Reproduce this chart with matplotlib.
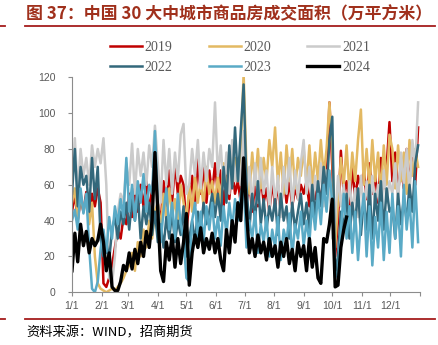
import matplotlib
matplotlib.use('Agg')
import matplotlib.pyplot as plt
from matplotlib.lines import Line2D
import numpy as np

# daily volume, sampled every 3 days from 1/1 (month by month)
y2019 = ([45, 55, 40, 52, 45, 56, 42, 55, 48, 58, 50] + [5, 3, 8, 15, 25, 35, 30, 42, 38]
         + [55, 42, 58, 45, 60, 48, 62, 45, 58, 70] + [50, 38, 62, 48, 68, 50, 72, 55, 65, 60]
         + [35, 50, 65, 48, 75, 55, 70, 50, 68, 55, 72] + [55, 68, 48, 65, 52, 70, 55, 62, 50, 78]
         + [50, 62, 45, 60, 48, 65, 50, 58, 45, 62] + [48, 60, 45, 65, 50, 62, 48, 58, 52, 60, 55]
         + [62, 48, 65, 52, 60, 50, 68, 58, 106] + [70, 20, 40, 79, 55, 62, 48, 70, 52, 65, 58]
         + [68, 52, 72, 55, 65, 50, 75, 58, 70, 95] + [62, 78, 55, 72, 58, 80, 62, 75, 60, 92])
y2020 = ([50, 58, 40, 55, 45, 52, 38, 50, 20, 5, 2] + [1, 0, 1, 2, 1, 3, 5, 8, 12]
         + [15, 22, 12, 28, 20, 35, 25, 40, 30, 45] + [50, 35, 55, 40, 58, 42, 52, 38, 60, 50]
         + [40, 60, 45, 65, 50, 62, 48, 70, 55, 62, 50] + [65, 50, 72, 55, 78, 60, 75, 62, 80, 122]
         + [70, 55, 78, 60, 80, 58, 75, 62, 85, 70] + [92, 60, 78, 55, 82, 62, 80, 58, 75, 65, 80]
         + [60, 82, 58, 78, 62, 85, 65, 80, 106] + [80, 25, 50, 75, 60, 82, 55, 78, 62, 85, 102]
         + [60, 80, 58, 85, 62, 78, 55, 82, 60, 88] + [80, 58, 82, 62, 78, 55, 85, 65, 80, 70])
y2021 = ([60, 86, 55, 80, 65, 75, 60, 82, 70, 80, 72] + [86, 60, 8, 5, 20, 45, 55, 50, 72]
         + [60, 83, 55, 80, 65, 78, 60, 82, 70, 93] + [72, 50, 85, 60, 80, 55, 78, 62, 88, 94]
         + [55, 60, 80, 65, 85, 58, 78, 62, 80, 70, 106] + [65, 82, 58, 78, 55, 85, 62, 75, 60, 90]
         + [55, 70, 48, 72, 50, 75, 55, 68, 45, 70] + [50, 65, 42, 70, 55, 75, 48, 68, 52, 72, 85]
         + [55, 70, 45, 65, 50, 72, 48, 68, 60] + [30, 40, 65, 48, 60, 40, 62, 45, 58, 42, 65]
         + [45, 62, 42, 65, 48, 60, 40, 68, 50, 62] + [55, 72, 50, 78, 60, 80, 55, 85, 70, 106])
y2022 = ([55, 80, 48, 70, 60, 65, 45, 75, 52, 70, 30] + [20, 28, 18, 35, 42, 30, 45, 38, 50]
         + [35, 52, 40, 55, 30, 48, 38, 50, 32, 45] + [28, 38, 25, 42, 30, 45, 28, 40, 32, 48]
         + [20, 30, 40, 28, 45, 35, 50, 38, 45, 55, 42] + [55, 40, 70, 50, 82, 58, 92, 62, 90, 116]
         + [60, 35, 55, 40, 62, 38, 52, 35, 48, 40] + [52, 32, 55, 40, 48, 30, 50, 35, 45, 55, 38]
         + [50, 35, 60, 42, 62, 48, 70, 55, 85] + [98, 10, 20, 45, 35, 55, 30, 50, 38, 58, 32]
         + [52, 35, 60, 30, 55, 40, 62, 35, 58, 45] + [48, 30, 55, 38, 52, 40, 60, 45, 72, 82])
y2023 = ([40, 46, 35, 58, 44, 55, 25, 2, 0, 6, 24] + [35, 22, 42, 30, 48, 38, 52, 42, 75]
         + [45, 60, 40, 62, 50, 66, 45, 60, 55, 90] + [50, 28, 45, 58, 35, 50, 30, 55, 38, 30]
         + [8, 6, 40, 50, 30, 45, 28, 48, 35, 50, 30] + [42, 26, 48, 32, 50, 36, 52, 40, 55, 62]
         + [25, 40, 30, 45, 22, 38, 28, 42, 20, 35] + [25, 42, 18, 35, 28, 44, 20, 38, 30, 45, 26]
         + [40, 28, 50, 35, 55, 38, 60, 45, 68] + [50, 8, 12, 35, 55, 30, 48, 22, 45, 18, 40]
         + [55, 20, 48, 15, 42, 25, 50, 18, 45, 22] + [55, 30, 48, 20, 60, 35, 52, 25, 62, 28])
y2024 = ([12, 33, 17, 38, 26, 34, 22, 30, 26, 29, 38] + [28, 12, 22, 3, 1, 1, 6, 15, 12]
         + [22, 13, 24, 16, 28, 20, 34, 25, 40, 78] + [45, 12, 6, 28, 18, 32, 14, 30, 16, 28]
         + [44, 4, 22, 32, 25, 36, 22, 30, 24, 33, 22] + [30, 18, 12, 35, 22, 40, 28, 50, 40, 75]
         + [45, 22, 30, 20, 32, 22, 28, 18, 30, 20] + [26, 14, 28, 20, 30, 16, 24, 12, 28, 20, 26]
         + [12, 30, 14, 25, 8, 5, 30, 28, 38] + [52, 3, 4, 25, 35, 42])

series = [('2019', y2019, '#C00000', 1.8),
          ('2020', y2020, '#E3B963', 1.8),
          ('2021', y2021, '#CBCBCB', 1.8),
          ('2022', y2022, '#33687B', 1.8),
          ('2023', y2023, '#5AAAC6', 1.8),
          ('2024', y2024, '#000000', 2.4)]

month_days = [0, 31, 59, 90, 120, 151, 181, 212, 243, 273, 304, 334]
month_labels = ['1/1', '2/1', '3/1', '4/1', '5/1', '6/1', '7/1', '8/1', '9/1', '10/1', '11/1', '12/1']

fig = plt.figure(figsize=(4.39, 3.45), dpi=100)
ax = fig.add_axes([72 / 439, 1 - 292.3 / 345, 348 / 439, 215 / 345])

lines = []
for name, vals, col, lw in series:
    days = np.arange(len(vals)) * 3
    ln, = ax.plot(days, vals, color=col, lw=lw, label=name)
    lines.append(ln)

ax.set_xlim(0, 365)
ax.set_ylim(0, 120)
ax.set_yticks(range(0, 121, 20))
ax.set_xticks(month_days + [365])
ax.set_xticklabels(month_labels + [''])
for s in ['top', 'right']:
    ax.spines[s].set_visible(False)
for s in ['left', 'bottom']:
    ax.spines[s].set_color('#8C8C8C')
    ax.spines[s].set_linewidth(0.8)
ax.tick_params(axis='both', colors='#8C8C8C', length=3, width=0.8, labelcolor='#595959',
               labelsize=7.5)
ax.tick_params(axis='y', pad=9)
ax.tick_params(axis='x', pad=3)
for t in ax.get_xticklabels() + ax.get_yticklabels():
    t.set_family('Liberation Sans')

# legend is filled column by column, so reorder to read 2019 2020 2021 across the first row
order = [0, 3, 1, 4, 2, 5]
fig.legend([lines[i] for i in order], [series[i][0] for i in order],
           loc='upper left', bbox_to_anchor=(110 / 439, 1 - 41 / 345), ncol=3, frameon=False,
           borderaxespad=0, borderpad=0, handlelength=2.3, handletextpad=0.2,
           columnspacing=2.6, labelspacing=0.5,
           prop={'family': 'Liberation Serif', 'size': 10}, labelcolor='#595959')

red = '#A51C1C'
fig.text(26 / 439, 1 - 14 / 345, '图 37：中国 30 大中城市商品房成交面积（万平方米）',
         family=['Noto Sans CJK SC', 'DejaVu Sans'], weight='bold', size=12.2,
         color='#A0301C', va='center')
for yy in [26, 319]:
    fig.add_artist(Line2D([25 / 439, 435 / 439], [1 - yy / 345] * 2, color=red, lw=1.3))
    fig.add_artist(Line2D([0, 5 / 439], [1 - yy / 345] * 2, color=red, lw=1.3))
fig.text(26 / 439, 1 - 333 / 345, '资料来源：WIND，招商期货',
         family=['Noto Sans CJK SC', 'DejaVu Sans'], size=9.5, color='black', va='center')

fig.savefig('out.png', dpi=100)
